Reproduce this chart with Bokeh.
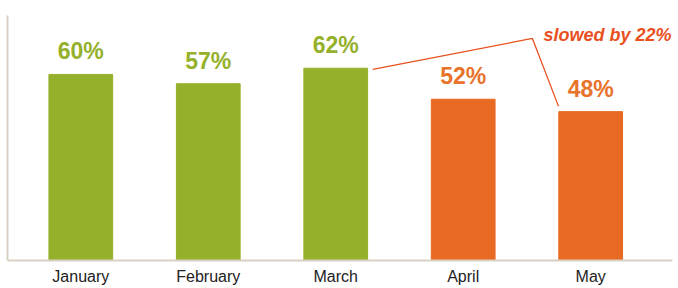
from bokeh.plotting import figure
from bokeh.models import Range1d, FixedTicker, ColumnDataSource, Label
from bokeh.embed import file_html
from bokeh.resources import INLINE
from bokeh.core.properties import value

# ---- data ----
months = ["January", "February", "March", "April", "May"]
shares = [60, 57, 62, 52, 48]
groups = ["before", "before", "before", "after", "after"]
annotation_text = "slowed by 22%"

GREEN = "#95B02A"
ORANGE = "#E86A22"
RED = "#E8501E"
AXIS = "#D9D0C4"

xs = list(range(len(months)))
bar_colors = [GREEN if g == "before" else ORANGE for g in groups]
label_colors = [GREEN if g == "before" else "#E8732A" for g in groups]
labels = [f"{v}%" for v in shares]

src = ColumnDataSource(dict(x=xs, top=shares, color=bar_colors,
                            lcolor=label_colors, label=labels))

p = figure(width=678, height=288, output_backend="svg", toolbar_location=None,
           x_range=Range1d(-0.575, 4.642), y_range=Range1d(0, 79),
           min_border_left=7, min_border_right=6, min_border_top=15,
           min_border_bottom=28)
p.outline_line_color = None
p.grid.visible = False
p.background_fill_color = "white"
p.border_fill_color = "white"

bar_w = 0.5
p.vbar(x="x", top="top", width=bar_w, color="color", source=src)

p.text(x="x", y="top", text="label", text_color="lcolor", source=src,
       text_align="center", text_baseline="bottom", y_offset=-10,
       text_font=value("Liberation Sans"), text_font_style="bold",
       text_font_size="23px")

# annotation bracket from March bar to May label
mar, may = 2, 4
bx = [mar + bar_w / 2 + 0.04, 3.543, may - bar_w / 2 - 0.002]
by = [shares[mar] - 0.4, 71.6, shares[may] + 1.7]
p.line(bx, by, line_color=RED, line_width=1.3)
p.add_layout(Label(x=4.642, y=71.6, text=annotation_text, text_color=RED,
                   text_align="right", text_baseline="middle",
                   x_offset=-1, y_offset=3,
                   text_font="Liberation Sans", text_font_style="bold italic",
                   text_font_size="18px"))

# axes
p.xaxis.ticker = FixedTicker(ticks=xs)
p.xaxis.major_label_overrides = {i: m for i, m in enumerate(months)}
p.xaxis.major_tick_line_color = None
p.xaxis.major_tick_out = 0
p.xaxis.major_tick_in = 0
p.xaxis.minor_tick_line_color = None
p.xaxis.axis_line_color = AXIS
p.xaxis.axis_line_width = 2
p.xaxis.major_label_text_font = "Liberation Sans"
p.xaxis.major_label_text_font_size = "16px"
p.xaxis.major_label_text_color = "#222222"
p.xaxis.major_label_standoff = 7

p.yaxis.ticker = FixedTicker(ticks=[])
p.yaxis.major_tick_line_color = None
p.yaxis.major_tick_out = 0
p.yaxis.major_tick_in = 0
p.yaxis.minor_tick_line_color = None
p.yaxis.axis_line_color = AXIS
p.yaxis.axis_line_width = 2

open("out.html", "w").write(file_html(p, INLINE))
